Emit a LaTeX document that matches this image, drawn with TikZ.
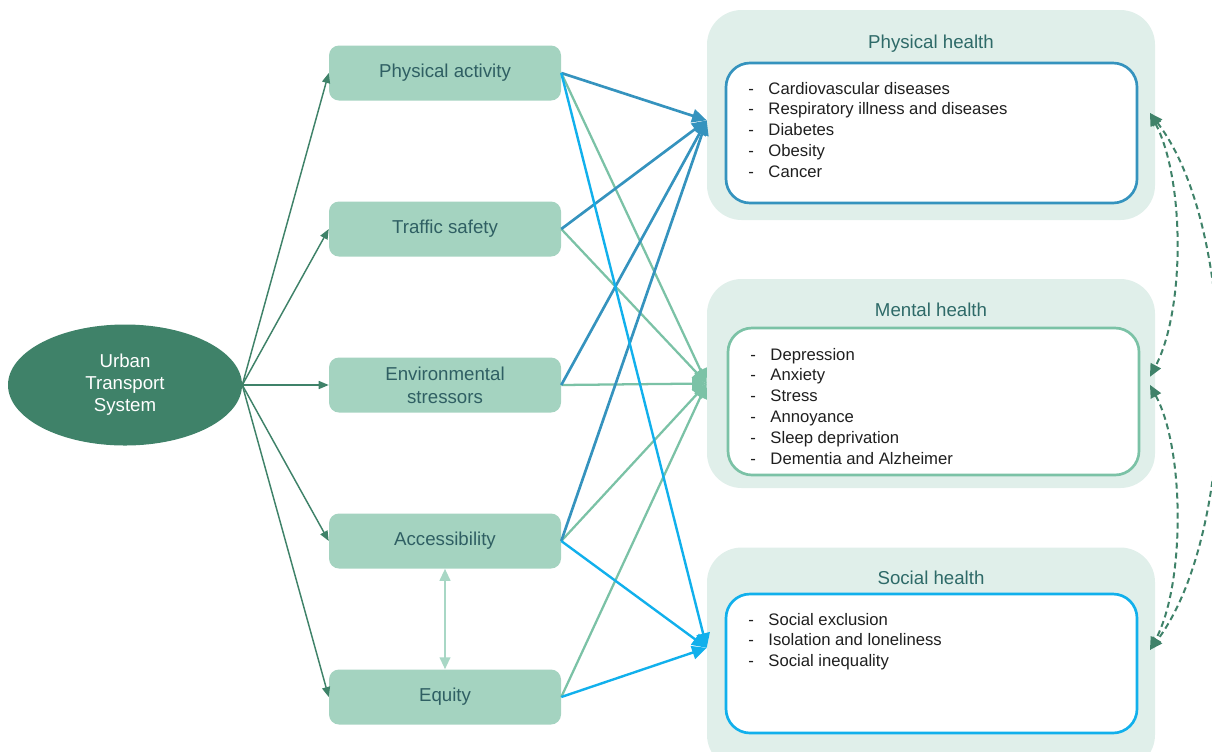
\documentclass[tikz,border=0pt]{standalone}
\usepackage{fontspec}
\setmainfont{Liberation Sans}
\usetikzlibrary{shapes.geometric,arrows.meta}

\definecolor{hubgreen}{HTML}{3F8269}
\definecolor{boxgreen}{HTML}{A4D3C0}
\definecolor{boxtext}{HTML}{2F5F63}
\definecolor{headtext}{HTML}{2E6A68}
\definecolor{panel}{HTML}{E0EFEA}
\definecolor{physblue}{HTML}{3593BE}
\definecolor{mentgreen}{HTML}{7BC2A6}
\definecolor{soccyan}{HTML}{11B0EC}
\definecolor{listtext}{HTML}{1F1F1F}
\definecolor{pairgreen}{HTML}{A8D7C5}

\begin{document}
\begin{tikzpicture}[
	x=0.75pt, y=-0.75pt,
	hub/.style={ ellipse, fill=hubgreen, text=white, inner sep=0pt, minimum width=175.5pt, minimum height=90.75pt, align=center, font=\fontsize{14}{16.5}\selectfont },
	factor/.style={ rounded corners=7.5pt, fill=boxgreen, text=boxtext, inner sep=0pt, minimum width=174pt, minimum height=41.25pt, align=center, font=\fontsize{14}{17}\selectfont },
	outcome/.style={ rounded corners=26pt, fill=panel, inner sep=0pt, minimum width=336pt },
	inner/.style={ rounded corners=18pt, draw, line width=2pt, fill=white, inner sep=0pt, minimum width=308.25pt },
	heading/.style={ anchor=base, text=headtext, inner sep=0pt, font=\fontsize{14}{17}\selectfont },
	items/.style={ anchor=base west, text=listtext, inner sep=0pt, font=\fontsize{12.5}{15.6}\selectfont },
	spoke/.style={ hubgreen, line width=1.1pt, -{Triangle[length=7.5pt,width=6pt]} },
	tophys/.style={ physblue, line width=2pt, -{Triangle[length=11pt,width=10pt]} },
	toment/.style={ mentgreen, line width=1.7pt, -{Triangle[length=11pt,width=10pt]} },
	tosoc/.style={ soccyan, line width=1.8pt, -{Triangle[length=11pt,width=10pt]} },
	pair/.style={ pairgreen, line width=1.5pt, {Triangle[length=9pt,width=8pt]}-{Triangle[length=9pt,width=8pt]} },
	link/.style={ hubgreen, line width=1.5pt, dash pattern=on 4.5pt off 3pt, {Triangle[length=9.5pt,width=8.5pt]}-{Triangle[length=9.5pt,width=8.5pt]} }
]

\useasboundingbox (0,0) rectangle (1212,751);

\node at (125,385) (uts) [hub] {Urban\\Transport\\System};

\node at (445,73) (pa) [factor] {Physical activity};
\node at (445,229) (ts) [factor] {Traffic safety};
\node at (445,385) (es) [factor] {Environmental\\stressors};
\node at (445,541) (ac) [factor] {Accessibility};
\node at (445,697) (eq) [factor] {Equity};
\foreach \f in {pa,ts,es,ac,eq} \draw[spoke] (uts.east) to (\f.west);

\draw[pair] (ac.south) to (eq.north);

\node at (931,115) (phys) [outcome,minimum height=157.5pt] {};
\node at (931,48) (physt) [heading] {Physical health};
\node at (931.5,133) (physb) [inner,draw=physblue,minimum height=105pt] {};
\node at (748,94) (physl) [items] {\begin{tabular}[t]{@{}l@{\hspace{11pt}}l@{}}
- & Cardiovascular diseases\\
- & Respiratory illness and diseases\\
- & Diabetes\\
- & Obesity\\
- & Cancer
\end{tabular}};

\node at (931,383.5) (ment) [outcome,minimum height=156.75pt] {};
\node at (931,316) (mentt) [heading] {Mental health};
\node at (933.5,401.5) (mentb) [inner,draw=mentgreen,minimum height=110.25pt] {};
\node at (750,360) (mentl) [items] {\begin{tabular}[t]{@{}l@{\hspace{11pt}}l@{}}
- & Depression\\
- & Anxiety\\
- & Stress\\
- & Annoyance\\
- & Sleep deprivation\\
- & Dementia and Alzheimer
\end{tabular}};

\node at (931,658.5) (soc) [outcome,minimum height=166.5pt] {};
\node at (931,584) (soct) [heading] {Social health};
\node at (931.5,663.5) (socb) [inner,draw=soccyan,minimum height=104.25pt] {};
\node at (748,625) (socl) [items] {\begin{tabular}[t]{@{}l@{\hspace{11pt}}l@{}}
- & Social exclusion\\
- & Isolation and loneliness\\
- & Social inequality
\end{tabular}};

\foreach \f in {pa,ts,es,ac,eq} \draw[toment] (\f.east) to (ment.west);
\foreach \f in {pa,ts,es,ac} \draw[tophys] (\f.east) to ([yshift=-4pt]phys.west);
\foreach \f in {pa,ac,eq} \draw[tosoc] (\f.east) to ([yshift=8pt]soc.west);

\draw[link] ([xshift=-4pt,yshift=1.5pt]phys.east) .. controls (1185,180) and (1185,310) .. ([xshift=-4pt,yshift=5pt]ment.east);
\draw[link] ([xshift=-4pt,yshift=-1pt]ment.east) .. controls (1185,450) and (1185,585) .. ([xshift=-4pt,yshift=6.4pt]soc.east);
\draw[link] ([xshift=-4pt,yshift=1.5pt]phys.east) .. controls (1240,230) and (1240,530) .. ([xshift=-4pt,yshift=6.4pt]soc.east);

\end{tikzpicture}
\end{document}
